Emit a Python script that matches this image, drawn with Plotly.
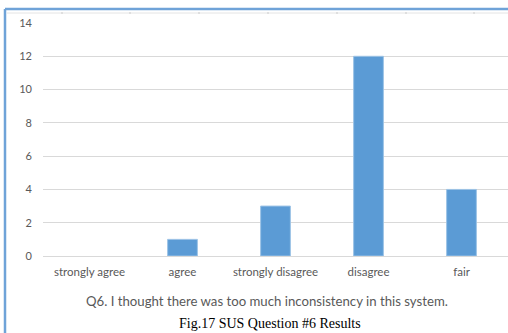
import plotly.graph_objects as go

# Responses to SUS question 6
categories = ["strongly agree", "agree", "strongly disagree", "disagree", "fair"]
counts = [0, 1, 3, 12, 4]
y_ticks = [0, 2, 4, 6, 8, 10, 12, 14]

question = "Q6. I thought there was too much inconsistency in this system."
caption = "Fig.17 SUS Question #6 Results"

W, H = 508, 333
L, R, T, B = 43, 0, 23, 77

bar_color = "#5b9bd5"
text_gray = "#595959"
grid_gray = "#d9d9d9"
label_font = "Lato, 'Open Sans', sans-serif"


def px_x(x):
    # pixel column -> paper x
    return (x - L) / (W - L - R)


def px_y(y):
    # pixel row -> paper y
    return 1 - (y - T) / (H - T - B)


fig = go.Figure(
    go.Bar(
        x=categories,
        y=counts,
        marker=dict(color=bar_color,
                    line=dict(color="#9dc3e6",
                              width=[0 if c == 0 else 1 for c in counts])),
        width=0.32,
    )
)

shapes = [
    # frame around the chart (left and top edges)
    dict(type="line", xref="paper", yref="paper",
         x0=px_x(5), x1=px_x(W + 2), y0=px_y(9), y1=px_y(9),
         line=dict(color="#6fa3d8", width=2.5)),
    dict(type="line", xref="paper", yref="paper",
         x0=px_x(5), x1=px_x(5), y0=px_y(9), y1=px_y(H + 2),
         line=dict(color="#6fa3d8", width=2.5)),
    # thin rule under the frame
    dict(type="line", xref="paper", yref="paper",
         x0=px_x(7), x1=px_x(W + 2), y0=px_y(13), y1=px_y(13),
         line=dict(color="#e4e4e4", width=1)),
]
for tx in [62, 130, 199, 268, 337, 406, 474]:
    shapes.append(dict(type="line", xref="paper", yref="paper",
                       x0=px_x(tx), x1=px_x(tx), y0=px_y(12), y1=px_y(14),
                       line=dict(color="#cccccc", width=1)))

fig.update_layout(
    width=W,
    height=H,
    margin=dict(l=L, r=R, t=T, b=B),
    paper_bgcolor="white",
    plot_bgcolor="white",
    showlegend=False,
    bargap=0.68,
    shapes=shapes,
    xaxis=dict(
        showgrid=False,
        showline=True,
        linecolor=grid_gray,
        linewidth=1,
        ticks="",
        tickfont=dict(family=label_font, size=11.5, color=text_gray),
        ticklabelstandoff=5,
        fixedrange=True,
    ),
    yaxis=dict(
        range=[0, 14],
        tickvals=y_ticks,
        showgrid=True,
        gridcolor=grid_gray,
        gridwidth=1,
        zeroline=False,
        showline=False,
        ticks="",
        tickfont=dict(family=label_font, size=11, color=text_gray),
        ticklabelstandoff=10,
        fixedrange=True,
    ),
    annotations=[
        dict(text=question, xref="paper", yref="paper",
             x=px_x(267), y=px_y(301), xanchor="center", yanchor="middle",
             showarrow=False,
             font=dict(family=label_font, size=13.2, color=text_gray)),
        dict(text=caption, xref="paper", yref="paper",
             x=px_x(270), y=px_y(323), xanchor="center", yanchor="middle",
             showarrow=False,
             font=dict(family="'Liberation Serif', 'Times New Roman', serif",
                       size=14, color="black")),
    ],
)

fig.write_html("out.html", config={"displayModeBar": False})
